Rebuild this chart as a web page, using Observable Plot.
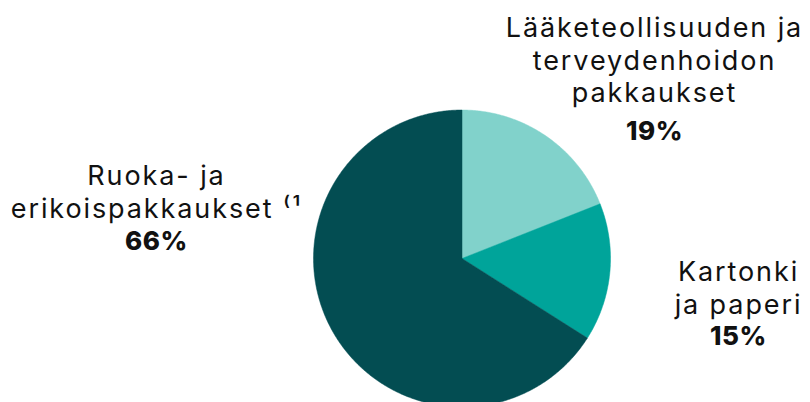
<!DOCTYPE html>
<html>
<head>
<meta charset="utf-8">
<script src="https://cdn.jsdelivr.net/npm/d3@7"></script>
<script src="https://cdn.jsdelivr.net/npm/@observablehq/plot@0.6"></script>
<style>
  html, body { margin: 0; padding: 0; background: #fff; }
  #chart svg { display: block; }
  g[aria-description="names"] text { letter-spacing: 1.9px; }
  g[aria-description="pcts"] text { letter-spacing: 0.6px; }
</style>
</head>
<body>
<div id="chart"></div>
<script>
// ---- data ----
const categories = [
  "Lääketeollisuuden ja\nterveydenhoidon\npakkaukset",
  "Kartonki\nja paperi",
  "Ruoka- ja\nerikoispakkaukset ⁽¹"
];
const shares = [19, 15, 66];
const colors = ["#81D2CB", "#00A49A", "#034D52"];

// ---- layout (pixels) ----
const W = 810, H = 402;
const CX = 461.5, CY = 258, R = 148.5;
const toX = px => (px - CX) / R;
const toY = py => (CY - py) / R;
// label anchors: [name center x, name block center y, percent center y]
const labelLayout = [
  [654, 59, 131],
  [738, 286.5, 336.5],
  [156, 190.5, 241]
];

// build slice polygons (unit circle, clockwise from 12 o'clock)
const total = d3.sum(shares);
const slices = [];
let start = 0;
shares.forEach((v, i) => {
  const end = start + (v / total) * 2 * Math.PI;
  const pts = [{i, x: 0, y: 0}];
  const n = Math.max(2, Math.ceil((end - start) / (Math.PI / 360)));
  for (let k = 0; k <= n; k++) {
    const a = start + (end - start) * k / n;
    pts.push({i, x: Math.sin(a), y: Math.cos(a)});
  }
  pts.push({i, x: 0, y: 0});
  slices.push(...pts);
  start = end;
});

const labels = categories.map((c, i) => ({
  name: c,
  pct: shares[i] + "%",
  x: toX(labelLayout[i][0]),
  y: toY(labelLayout[i][1]),
  py: toY(labelLayout[i][2])
}));

const chart = Plot.plot({
  width: W,
  height: H,
  margin: 0,
  style: {fontFamily: "Inter, 'Noto Sans', sans-serif", background: "#fff"},
  x: {domain: [toX(0), toX(W)], axis: null},
  y: {domain: [toY(H), toY(0)], axis: null},
  color: {domain: [0, 1, 2], range: colors},
  marks: [
    Plot.line(slices, {x: "x", y: "y", z: "i", fill: "i", stroke: "i", strokeWidth: 0.5, curve: "linear"}),
    Plot.text(labels, {x: "x", y: "y", text: "name", fontSize: 27, lineHeight: 1.2, fill: "#111", lineAnchor: "middle", ariaDescription: "names"}),
    Plot.text(labels, {x: "x", y: "py", text: "pct", fontSize: 26, fontWeight: 800, fill: "#111", ariaDescription: "pcts"})
  ]
});
document.getElementById("chart").appendChild(chart);
</script>
</body>
</html>
